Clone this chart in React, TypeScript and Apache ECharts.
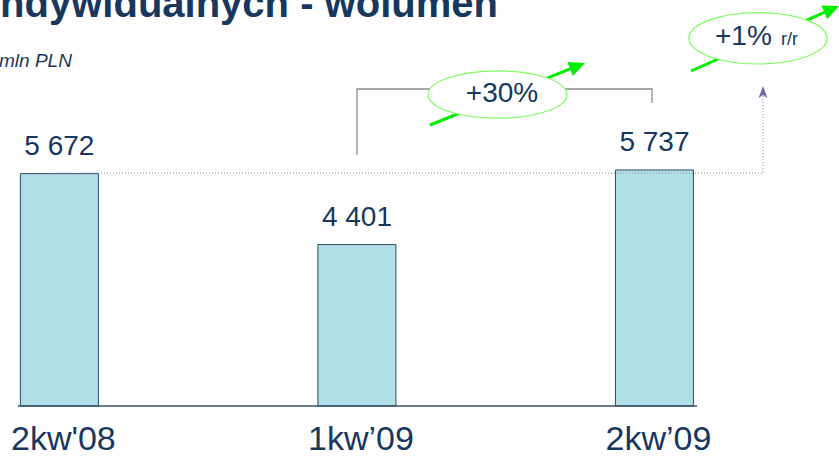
import React, { useEffect, useRef } from "react";
import * as echarts from "echarts";

const categories = ["2kw'08", "1kw\u201909", "2kw\u201909"];
const volumes = [5672, 4401, 5737];
const changeQoQ = "+30%";
const changeYoY = "+1%";
const yoyUnit = "r/r";
const titleText = "indywidualnych - wolumen";
const unitText = "mln PLN";

const NAVY = "#17375e";
const FONT = "'Liberation Sans', Arial, sans-serif";

function fmt(v: number): string {
  return String(v).replace(/\B(?=(\d{3})+(?!\d))/g, " ");
}

function arrow(x1: number, y1: number, x2: number, y2: number, color: string, width: number, headLen: number, headHalf: number, z: number) {
  const dx = x2 - x1, dy = y2 - y1;
  const L = Math.hypot(dx, dy);
  const ux = dx / L, uy = dy / L;
  const bx = x2 - ux * headLen, by = y2 - uy * headLen;
  const px = -uy, py = ux;
  return [
    { type: "line", z, shape: { x1, y1, x2: bx, y2: by }, style: { stroke: color, lineWidth: width } },
    {
      type: "polygon", z,
      shape: { points: [[x2, y2], [bx + px * headHalf, by + py * headHalf], [bx - px * headHalf, by - py * headHalf]] },
      style: { fill: color },
    },
  ];
}

export default function App() {
  const ref = useRef<HTMLDivElement>(null);
  useEffect(() => {
    if (!ref.current) return;
    const chart = echarts.init(ref.current, undefined, { renderer: "svg" });
    const barData = volumes.map((v, i) => [i, v]);
    chart.setOption({
      animation: false,
      grid: { left: 0, right: 0, top: 99, bottom: 51 },
      xAxis: {
        type: "value",
        min: -0.1928,
        max: 2.6203,
        splitLine: { show: false },
        axisLine: { show: false },
        axisTick: { show: false },
        axisLabel: {
          customValues: categories.map((_, i) => i),
          formatter: (v: number) => categories[Math.round(v)] ?? "",
          fontSize: 34,
          lineHeight: 34,
          color: NAVY,
          fontFamily: FONT,
          margin: 15,
          padding: [0, 0, 0, 8],
        },
      },
      yAxis: { type: "value", min: 1500, max: 7000, show: false },
      series: [
        {
          type: "bar",
          data: barData,
          barWidth: 79,
          itemStyle: { color: "#b0dfe5", borderColor: "#2c4a6b", borderWidth: 1 },
          label: {
            show: true,
            position: "top",
            distance: 14,
            fontSize: 28,
            color: NAVY,
            fontFamily: FONT,
            formatter: (p: any) => fmt(p.value[1]),
          },
        },
      ],
    });

    const yRef = chart.convertToPixel({ yAxisIndex: 0 }, volumes[0]) as number;
    const yBase = chart.convertToPixel({ yAxisIndex: 0 }, 1500) as number;

    const els: any[] = [
      {
        type: "text", z: 10, x: -11, y: 3,
        style: { text: titleText, font: `bold 40px ${FONT}`, fill: NAVY, verticalAlign: "middle" },
      },
      {
        type: "text", z: 10, x: -1, y: 60,
        style: { text: unitText, font: `italic 19px ${FONT}`, fill: NAVY, verticalAlign: "middle" },
      },
      { type: "line", z: 10, shape: { x1: 18, y1: yBase, x2: 697, y2: yBase }, style: { stroke: "#34506e", lineWidth: 1.5 } },
      {
        type: "polyline", z: 10,
        shape: { points: [[357, 155], [357, 89], [652, 89], [652, 103]] },
        style: { stroke: "#8c8c8c", lineWidth: 1.3, fill: "none" },
      },
      {
        type: "polyline", z: 10,
        shape: { points: [[50, yRef], [763, yRef], [763, 96]] },
        style: { stroke: "#8b84ab", lineWidth: 1, lineDash: [1, 2], fill: "none" },
      },
      {
        type: "polygon", z: 10,
        shape: { points: [[763, 86], [758.5, 98], [763, 95], [767.5, 98]] },
        style: { fill: "#6f6a9b" },
      },
      ...arrow(430, 125, 585, 63, "#00ee00", 3, 16, 7.5, 11),
      ...arrow(691, 71, 839, 6, "#00ee00", 3, 16, 7.5, 11),
      {
        type: "ellipse", z: 12,
        shape: { cx: 497.5, cy: 94.5, rx: 69.5, ry: 23.7 },
        style: { fill: "#ffffff", stroke: "#7dfc5f", lineWidth: 1.2 },
      },
      {
        type: "ellipse", z: 12,
        shape: { cx: 758, cy: 38.3, rx: 69, ry: 25.7 },
        style: { fill: "#ffffff", stroke: "#7dfc5f", lineWidth: 1.2 },
      },
      {
        type: "text", z: 13, x: 502, y: 92.3,
        style: { text: changeQoQ, font: `28px ${FONT}`, fill: NAVY, align: "center", verticalAlign: "middle" },
      },
      {
        type: "text", z: 13, x: 715, y: 35.3,
        style: { text: changeYoY, font: `28px ${FONT}`, fill: NAVY, verticalAlign: "middle" },
      },
      {
        type: "text", z: 13, x: 781, y: 38.8,
        style: { text: yoyUnit, font: `18px ${FONT}`, fill: NAVY, verticalAlign: "middle" },
      },
    ];
    chart.setOption({ graphic: { elements: els } });

    return () => chart.dispose();
  }, []);
  return (
    <div
      ref={ref}
      style={{ position: "fixed", left: 0, top: 0, width: 839, height: 457, background: "#ffffff" }}
    />
  );
}
